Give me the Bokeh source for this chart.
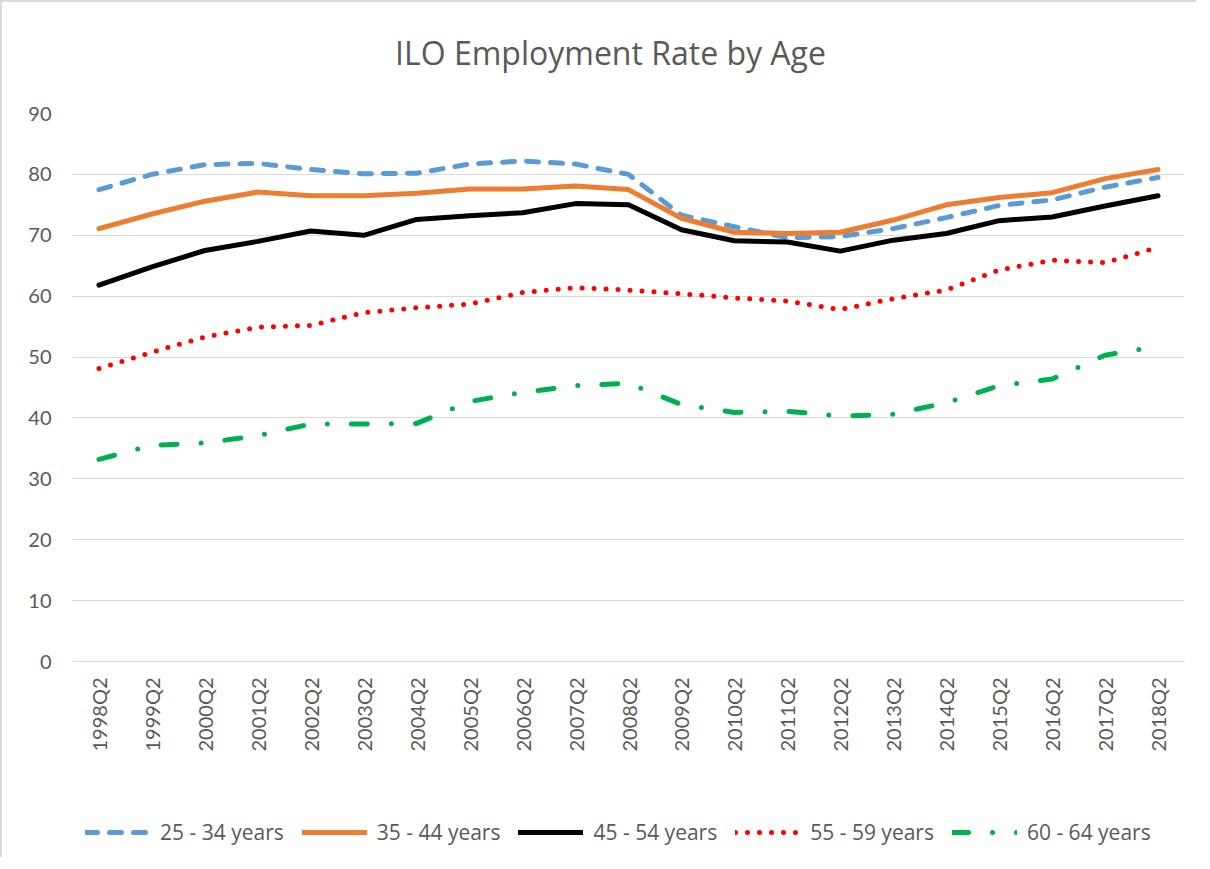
import math
from bokeh.plotting import figure
from bokeh.layouts import column
from bokeh.models import FactorRange, Range1d, Legend, LegendItem, FixedTicker, Label
from bokeh.embed import file_html
from bokeh.resources import INLINE

quarters = ["1998Q2", "1999Q2", "2000Q2", "2001Q2", "2002Q2", "2003Q2", "2004Q2",
            "2005Q2", "2006Q2", "2007Q2", "2008Q2", "2009Q2", "2010Q2", "2011Q2",
            "2012Q2", "2013Q2", "2014Q2", "2015Q2", "2016Q2", "2017Q2", "2018Q2"]

age_25_34 = [77.5, 80.0, 81.6, 81.8, 80.8, 80.1, 80.2, 81.7, 82.2, 81.7, 80.0,
             73.3, 71.4, 69.6, 69.8, 71.1, 72.9, 74.9, 75.8, 77.9, 79.5]
age_35_44 = [71.1, 73.5, 75.6, 77.1, 76.5, 76.5, 76.9, 77.6, 77.6, 78.1, 77.5,
             72.8, 70.5, 70.3, 70.5, 72.5, 75.0, 76.2, 77.0, 79.3, 80.8]
age_45_54 = [61.8, 64.8, 67.5, 69.0, 70.7, 70.0, 72.6, 73.2, 73.7, 75.2, 75.0,
             70.9, 69.1, 68.9, 67.4, 69.2, 70.3, 72.4, 73.0, 74.8, 76.5]
age_55_59 = [48.1, 50.8, 53.3, 54.9, 55.2, 57.3, 58.1, 58.7, 60.6, 61.4, 61.0,
             60.4, 59.7, 59.2, 57.8, 59.6, 61.0, 64.3, 65.9, 65.5, 68.0]
age_60_64 = [33.2, 35.5, 35.9, 37.1, 39.0, 39.0, 39.1, 42.7, 44.2, 45.3, 45.7,
             42.2, 40.9, 41.1, 40.3, 40.6, 42.5, 45.3, 46.4, 50.3, 51.8]

series_labels = ["25 - 34 years", "35 - 44 years", "45 - 54 years",
                 "55 - 59 years", "60 - 64 years"]
chart_title = "ILO Employment Rate by Age"
y_ticks = [0, 10, 20, 30, 40, 50, 60, 70, 80, 90]

FONT = "Lato"
GREY = "#595959"
W = 1194
LEFT, RIGHT = 70, 12


def blank_figure(height):
    f = figure(width=W, height=height, x_range=Range1d(0, 1), y_range=Range1d(0, 1),
               x_axis_location=None, y_axis_location=None, title=None,
               output_backend="svg", toolbar_location=None,
               min_border_left=LEFT, min_border_right=RIGHT,
               min_border_top=0, min_border_bottom=0)
    f.grid.visible = False
    f.outline_line_color = None
    f.background_fill_color = "white"
    f.border_fill_color = "white"
    return f


# ---- header with the title ----
header = blank_figure(80)
header.add_layout(Label(x=538, y=30, x_units="screen", y_units="screen",
                        text=chart_title, text_align="center", text_baseline="middle",
                        text_font="Open Sans", text_font_size="32px",
                        text_color=GREY))

# ---- main chart ----
p = figure(width=W, height=680, title=None,
           x_range=FactorRange(*quarters, range_padding=0),
           y_range=Range1d(0, 90),
           output_backend="svg", toolbar_location=None,
           min_border_left=LEFT, min_border_right=RIGHT,
           min_border_top=31, min_border_bottom=101)
p.outline_line_color = None
p.background_fill_color = "white"
p.border_fill_color = "white"

p.xgrid.visible = False
p.ygrid.grid_line_color = "#d9d9d9"
p.ygrid.grid_line_width = 1

p.yaxis.ticker = FixedTicker(ticks=y_ticks)
p.yaxis.axis_line_color = None
p.yaxis.major_tick_line_color = None
p.yaxis.minor_tick_line_color = None
p.yaxis.major_label_standoff = 15
p.yaxis.major_label_text_font = FONT
p.yaxis.major_label_text_font_size = "20px"
p.yaxis.major_label_text_color = GREY

p.xaxis.axis_line_color = "#d9d9d9"
p.xaxis.major_tick_line_color = None
p.xaxis.minor_tick_line_color = None
p.xaxis.major_label_orientation = math.pi / 2
p.xaxis.major_label_standoff = 10
p.xaxis.major_label_text_font = FONT
p.xaxis.major_label_text_font_size = "20px"
p.xaxis.major_label_text_color = GREY

styles = [
    (age_25_34, "#5B9BD5", "12 12"),
    (age_35_44, "#ED7D31", "solid"),
    (age_45_54, "#000000", "solid"),
    (age_55_59, "#FF0000", "0 12"),
    (age_60_64, "#00B050", "16 24 0 24"),
]

for vals, color, dash in styles:
    p.line(x=quarters, y=vals, line_color=color, line_width=5,
           line_dash=dash, line_cap="round", line_join="round")

# ---- footer with the legend ----
footer = blank_figure(95)
items = []
for (vals, color, dash), label in zip(styles, series_labels):
    r = footer.line(x=[float("nan")], y=[float("nan")], line_color=color,
                    line_width=5, line_dash=dash, line_cap="round",
                    line_join="round")
    items.append(LegendItem(label=label, renderers=[r]))

legend = Legend(items=items, orientation="horizontal", location=(13, 11),
                glyph_width=65, glyph_height=20, label_standoff=10, spacing=18,
                border_line_color=None, background_fill_alpha=0,
                label_text_font="Open Sans", label_text_font_size="21px",
                label_text_color=GREY, padding=0, margin=0)
footer.add_layout(legend)

layout = column(header, p, footer, spacing=0)
layout.styles = {"border-top": "2px solid #d9d9d9", "border-left": "2px solid #d9d9d9"}

open("out.html", "w").write(file_html(layout, INLINE))
